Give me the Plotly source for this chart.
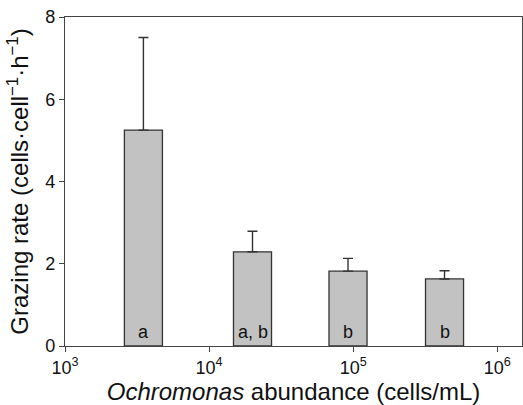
import numpy as np
import plotly.graph_objects as go

# Grazing rate at four Ochromonas abundance levels (mean + SE)
abundance = [3500, 20000, 92000, 430000]          # cells/mL
grazing_rate = [5.25, 2.29, 1.82, 1.63]           # cells·cell^-1·h^-1
grazing_se = [2.25, 0.50, 0.31, 0.20]
group_labels = ["a", "a, b", "b", "b"]
decades = [3, 4, 5, 6]
decade_labels = [f"10<sup>{d}</sup>" for d in decades]

log_x = np.log10(abundance)
font = "Liberation Sans, Arial, Helvetica, sans-serif"

fig = go.Figure()
fig.add_trace(go.Bar(
    x=log_x,
    y=grazing_rate,
    width=0.264,
    marker=dict(color="#c2c2c2", line=dict(color="#333333", width=1.3)),
    error_y=dict(type="data", symmetric=False, array=grazing_se,
                 arrayminus=[0] * len(grazing_se),
                 color="#333333", thickness=1.4, width=5),
    showlegend=False,
))

for xv, lab in zip(log_x, group_labels):
    fig.add_annotation(x=xv, y=0, text=lab, showarrow=False,
                       yanchor="bottom", yshift=2,
                       font=dict(family=font, size=18, color="#111111"))

axis_common = dict(showline=True, linecolor="#444444", linewidth=1.3,
                   mirror=True, ticks="outside", ticklen=5, tickwidth=1,
                   tickcolor="#444444", showgrid=False, zeroline=False,
                   tickfont=dict(family=font, size=18, color="#111111"))

fig.update_layout(
    width=523, height=405,
    margin=dict(l=65, r=1, t=17, b=59),
    paper_bgcolor="white", plot_bgcolor="white",
    xaxis=dict(range=[3, 6.171], tickvals=decades, ticktext=decade_labels,
               title=dict(text="<i>Ochromonas</i> abundance (cells/mL)",
                          font=dict(family=font, size=24, color="#111111"),
                          standoff=6),
               **axis_common),
    yaxis=dict(range=[0, 8], tickvals=[0, 2, 4, 6, 8],
               title=dict(text="Grazing rate (cells·cell<sup>−1</sup>·h<sup>−1</sup>)",
                          font=dict(family=font, size=24, color="#111111"),
                          standoff=9),
               **axis_common),
)

fig.write_html("out.html")
